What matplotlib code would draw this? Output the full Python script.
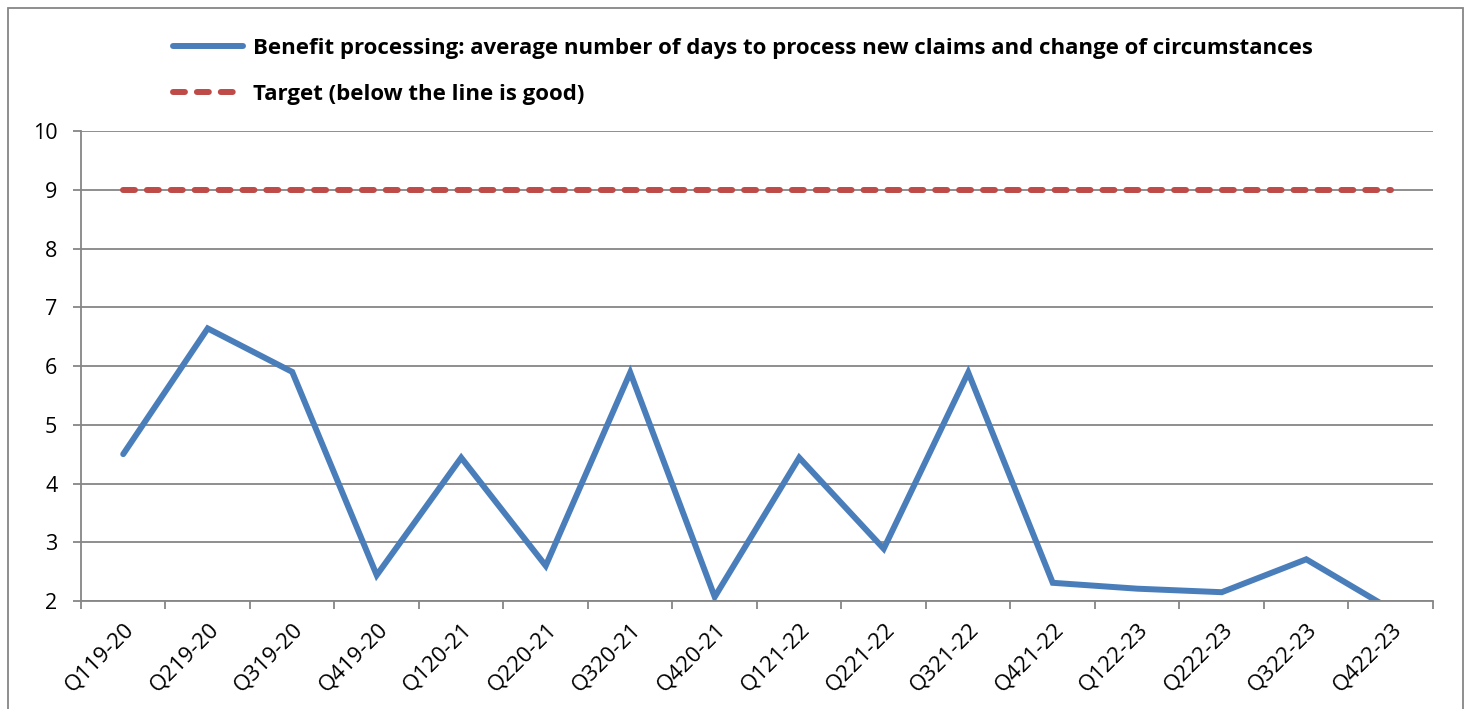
import matplotlib.pyplot as plt
from matplotlib.patches import Rectangle

quarters = ['Q119-20', 'Q219-20', 'Q319-20', 'Q419-20', 'Q120-21', 'Q220-21', 'Q320-21', 'Q420-21',
            'Q121-22', 'Q221-22', 'Q321-22', 'Q421-22', 'Q122-23', 'Q222-23', 'Q322-23', 'Q422-23']
days = [4.5, 6.64, 5.9, 2.44, 4.44, 2.6, 5.89, 2.07, 4.44, 2.89, 5.89, 2.31, 2.21, 2.15, 2.71, 1.86]
target = [9] * len(quarters)

plt.rcParams['font.family'] = ['Open Sans', 'DejaVu Sans']

fig = plt.figure(figsize=(14.72, 7.09), dpi=100)
ax = fig.add_axes([0.055, 0.1523, 0.9185, 0.6629])

x = list(range(len(quarters)))
l1, = ax.plot(x, days, color='#4A7EBB', lw=4.3, solid_capstyle='round', solid_joinstyle='miter')
l2, = ax.plot(x, target, color='#BE4B48', lw=4.3, dashes=(2, 2), dash_capstyle='round')

ax.set_xlim(-0.5, len(quarters) - 0.5)
ax.set_ylim(2, 10)
ax.set_yticks(range(2, 11))
ax.set_xticks(x)
ax.set_xticklabels(quarters, rotation=45, ha='right', rotation_mode='anchor', fontsize=16)
ax.tick_params(axis='x', length=0, pad=13)
ax.set_xticks([i - 0.5 for i in range(len(quarters) + 1)], minor=True)
ax.tick_params(axis='x', which='minor', length=6, color='#868686', width=1.3)
ax.tick_params(axis='y', length=6, color='#868686', width=1.3, labelsize=15.5, pad=11)
ax.grid(axis='y', color='#868686', lw=1.3)
ax.set_axisbelow(True)
for s in ['top', 'right']:
    ax.spines[s].set_visible(False)
for s in ['left', 'bottom']:
    ax.spines[s].set_color('#868686')
    ax.spines[s].set_linewidth(1.3)

fig.legend([l1, l2],
           ['Benefit processing: average number of days to process new claims and change of circumstances',
            'Target (below the line is good)'],
           loc='upper left', bbox_to_anchor=(0.1042, 0.975), frameon=False,
           prop={'weight': 'bold', 'size': 16}, handlelength=3.15, handletextpad=0.45,
           labelspacing=1.13)

fig.patches.append(Rectangle((0.0055, -0.05), 0.9885, 1.039, transform=fig.transFigure,
                             fill=False, edgecolor='#868686', lw=1.3))

fig.savefig('out.png', dpi=100)
